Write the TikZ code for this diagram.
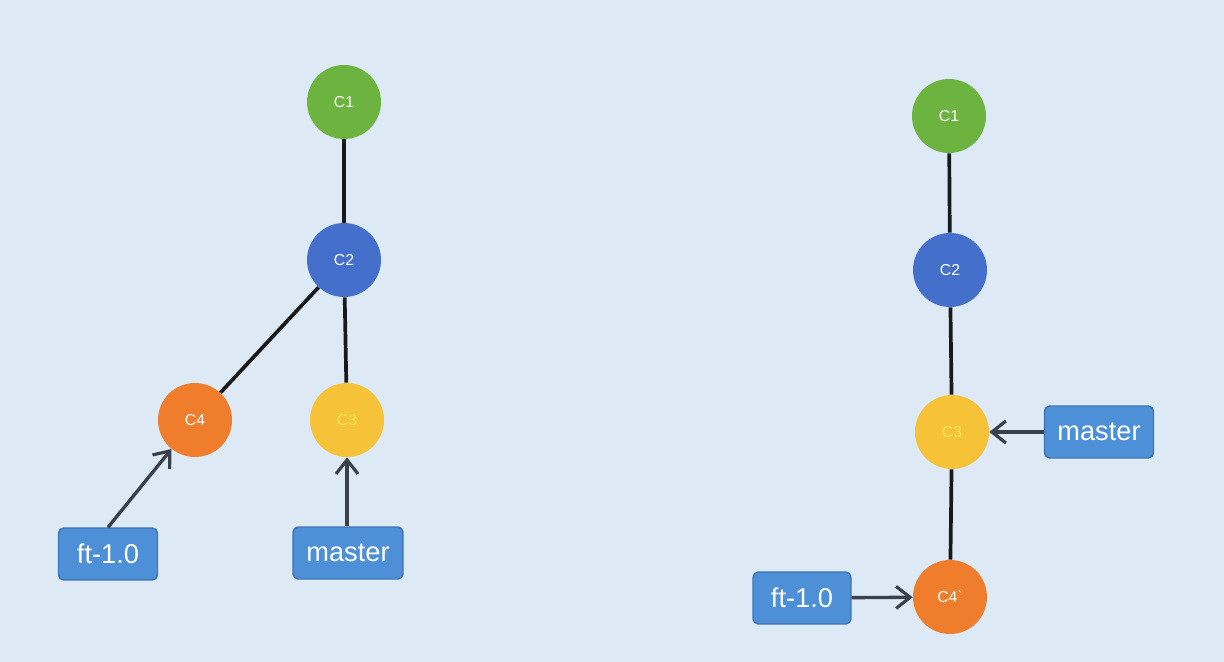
\documentclass[tikz,border=0pt]{standalone}
\usepackage{fontspec}
\setmainfont{Liberation Sans}
\usetikzlibrary{positioning,arrows.meta}
\definecolor{bgblue}{HTML}{DDE9F5}
\definecolor{cgreen}{HTML}{6DB33F}
\definecolor{cblue}{HTML}{4470CB}
\definecolor{corange}{HTML}{EF7D2B}
\definecolor{cyellow}{HTML}{F5C238}
\definecolor{cyeltext}{HTML}{F8E85C}
\definecolor{boxfill}{HTML}{4E90D7}
\definecolor{boxline}{HTML}{3C74B8}
\definecolor{arrowgray}{HTML}{3A4049}
\tikzset{
  commit/.style={circle,minimum size=1.48cm,inner sep=0pt,text=white,font=\fontsize{9}{11}\selectfont},
  branch/.style={draw=boxline,line width=0.8pt,rounded corners=3pt,fill=boxfill,text=white,
    minimum height=1.04cm,inner sep=0pt,font=\fontsize{15.5}{18}\selectfont},
  link/.style={line width=2.1pt,black!90},
  ptr/.style={-{Straight Barb[length=2.8mm,width=4.4mm,line width=1.8pt]},line width=1.9pt,arrowgray},
}
\begin{document}
\begin{tikzpicture}[x=0.02cm,y=-0.02cm]
  \fill[bgblue] (0,0) rectangle (1224,662);
  % before rebase
  \node[commit,fill=cgreen] (a1) at (344,102) {C1};
  \node[commit,fill=cblue] (a2) at (344,260) {C2};
  \node[commit,fill=corange] (a4) at (195,420) {C4};
  \node[commit,fill=cyellow,text=cyeltext] (a3) at (347,420) {C3};
  \node[branch,minimum width=1.98cm] (aft) at (108,554) {ft-1.0};
  \node[branch,minimum width=2.2cm] (ams) at (348,553) {master};
  \draw[link] (a1)--(a2);
  \draw[link] (a2)--(a3);
  \draw[link] (a2)--(a4);
  \draw[ptr] (aft.north)--(a4);
  \draw[ptr] ([xshift=-0.02cm]ams.north)--(a3);
  % after rebase
  \node[commit,fill=cgreen] (b1) at (949,116) {C1};
  \node[commit,fill=cblue] (b2) at (950,270) {C2};
  \node[commit,fill=cyellow,text=cyeltext] (b3) at (952,432) {C3};
  \node[commit,fill=corange] (b4) at (950,597) {C4\textasciigrave};
  \node[branch,minimum width=2.18cm] (bms) at (1099,432) {master};
  \node[branch,minimum width=1.96cm] (bft) at (802,598) {ft-1.0};
  \draw[link] (b1)--(b2);
  \draw[link] (b2)--(b3);
  \draw[link] (b3)--(b4);
  \draw[ptr] (bms)--(b3);
  \draw[ptr] (bft)--(b4);
\end{tikzpicture}
\end{document}
